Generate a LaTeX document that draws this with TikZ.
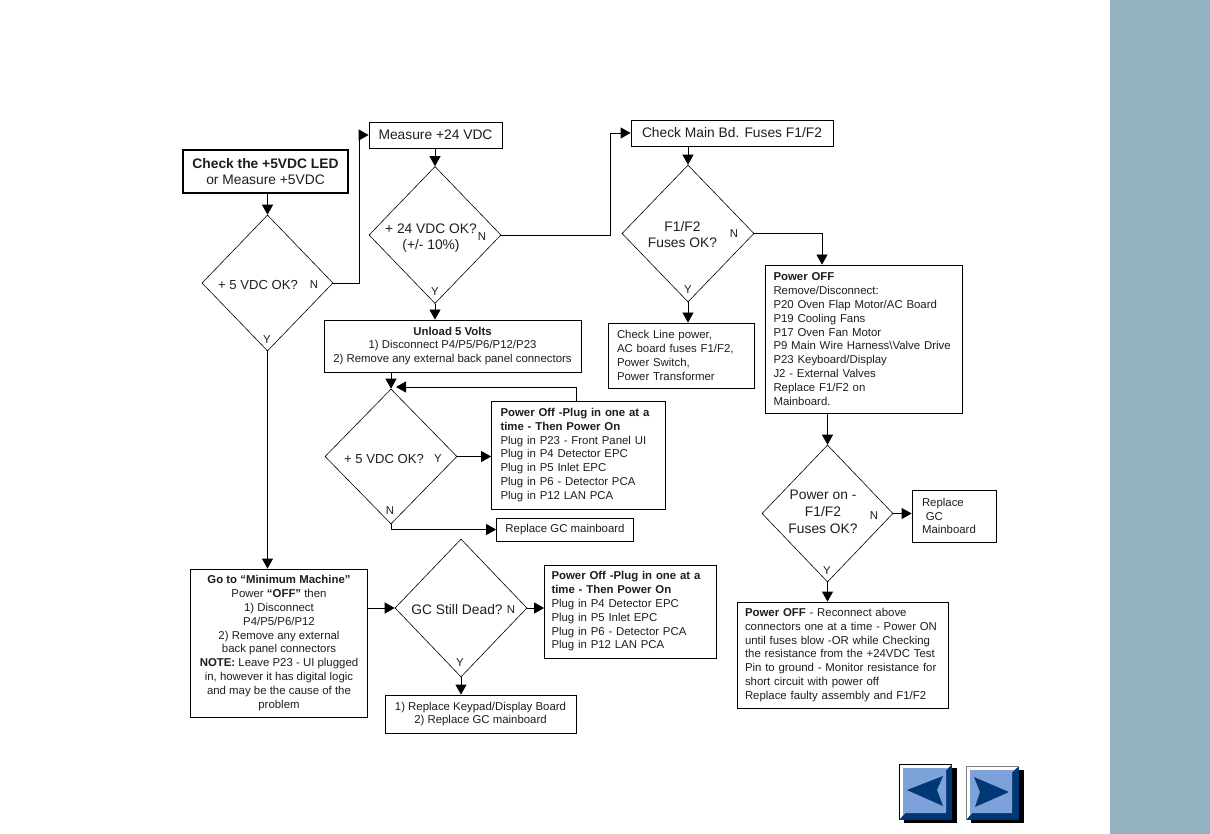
\documentclass[tikz,border=0pt]{standalone}
\usepackage{fontspec}
\setmainfont{Liberation Sans}
\usetikzlibrary{shapes.geometric,arrows.meta}
\definecolor{side}{HTML}{92B1C1}
\definecolor{txt}{HTML}{1E1E1E}
\definecolor{btn}{HTML}{7DA2DA}
\definecolor{btnd}{HTML}{003876}
\tikzset{
  x=1pt,y=-1pt,
  every node/.style={font=\fontsize{11.4}{13.8}\selectfont,text=txt},
  box/.style={draw=black,line width=0.8pt,rectangle,inner sep=0pt,align=center},
  lbox/.style={draw=black,line width=0.8pt,rectangle,inner sep=0pt,align=left},
  dia/.style={draw=black,line width=0.6pt,diamond,inner sep=0pt,aspect=1},
  lab/.style={inner sep=0pt,align=center},
  big/.style={font=\fontsize{13.8}{15.5}\selectfont},
  flow/.style={draw=black,line width=0.8pt,-{Triangle[length=10pt,width=11pt]}},
}
\begin{document}
\begin{tikzpicture}
\useasboundingbox (0,0) rectangle (1210,834);
\fill[white] (0,0) rectangle (1210,834);
\fill[side] (1110,0) rectangle (1210,834);

% boxes
\node[box,line width=2pt,minimum width=165,minimum height=43,big] (start) at (265.5,171.5) {\textbf{Check the +5VDC LED}\\or Measure +5VDC};
\node[box,minimum width=133,minimum height=26,big] (meas) at (435.5,135) {Measure +24 VDC};
\node[box,minimum width=202,minimum height=26,big] (fuse) at (732,133) {Check Main Bd. Fuses F1/F2};
\node[box,minimum width=257,minimum height=52] (unload) at (452.5,346) {\textbf{Unload 5 Volts}\\1) Disconnect P4/P5/P6/P12/P23\\2) Remove any external back panel connectors};
\node[lbox,minimum width=146,minimum height=65,text width=128] (line) at (681,355.5) {Check Line power,\\AC board fuses F1/F2,\\Power Switch,\\Power Transformer};
\node[lbox,minimum width=197,minimum height=148,text width=180] (off) at (863.5,339) {\textbf{Power OFF}\\Remove/Disconnect:\\P20 Oven Flap Motor/AC Board\\P19 Cooling Fans\\P17 Oven Fan Motor\\P9 Main Wire Harness\textbackslash Valve Drive\\P23 Keyboard/Display\\J2 - External Valves\\Replace F1/F2 on\\Mainboard.};
\node[lbox,minimum width=174,minimum height=108,text width=156] (pw1) at (578.5,455) {\textbf{Power Off -Plug in one at a}\\\textbf{time - Then Power On}\\Plug in P23 - Front Panel UI\\Plug in P4 Detector EPC\\Plug in P5 Inlet EPC\\Plug in P6 - Detector PCA\\Plug in P12 LAN PCA};
\node[box,minimum width=137,minimum height=23] (gc) at (565,529.5) {Replace GC mainboard};
\node[box,minimum width=177,minimum height=148] (min) at (279,643) {\textbf{Go to “Minimum Machine”}\\Power \textbf{“OFF”} then\\1) Disconnect\\P4/P5/P6/P12\\2) Remove any external\\back panel connectors\\\textbf{NOTE:} Leave P23 - UI plugged\\in, however it has digital logic\\and may be the cause of the\\problem};
\node[lbox,minimum width=172,minimum height=93,text width=158] (pw2) at (630.5,611.5) {\textbf{Power Off -Plug in one at a}\\\textbf{time - Then Power On}\\Plug in P4 Detector EPC\\Plug in P5 Inlet EPC\\Plug in P6 - Detector PCA\\Plug in P12 LAN PCA};
\node[box,minimum width=191,minimum height=38] (key) at (480.5,714) {1) Replace Keypad/Display Board\\2) Replace GC mainboard};
\node[lbox,minimum width=84,minimum height=52,text width=64] (rep) at (954,516) {Replace\\\ GC\\Mainboard};
\node[lbox,minimum width=211,minimum height=106,text width=195] (last) at (842.5,655) {\textbf{Power OFF} - Reconnect above\\connectors one at a time - Power ON\\until fuses blow -OR while Checking\\the resistance from the +24VDC Test\\Pin to ground - Monitor resistance for\\short circuit with power off\\Replace faulty assembly and F1/F2};

% diamonds
\node[dia,minimum width=131,minimum height=136] (d5) at (267.5,283) {};
\node[dia,minimum width=132,minimum height=137] (d24) at (435,235) {};
\node[dia,minimum width=132,minimum height=137] (df) at (688,233.5) {};
\node[dia,minimum width=132,minimum height=135] (d5b) at (391,456.5) {};
\node[dia,minimum width=132,minimum height=138] (dgc) at (461,608) {};
\node[dia,minimum width=131,minimum height=137] (dp) at (827.5,513.5) {};

% diamond texts
\node[lab,font=\fontsize{13.1}{15}\selectfont] (t5) at (258,285) {+ 5 VDC OK?};
\node[lab] (n5) at (314,285) {N};
\node[lab] (y5) at (267,340) {Y};
\node[lab,font=\fontsize{13.8}{16}\selectfont] (t24) at (431,238) {+ 24 VDC OK?\\(+/- 10\%)};
\node[lab] (n24) at (482,237) {N};
\node[lab] (y24) at (435,292) {Y};
\node[lab,font=\fontsize{13.8}{16}\selectfont] (tf) at (682.5,235) {F1/F2\\Fuses OK?};
\node[lab] (nf) at (734,234) {N};
\node[lab] (yf) at (688,290) {Y};
\node[lab,font=\fontsize{13.1}{15}\selectfont] (t5b) at (384,459) {+ 5 VDC OK?};
\node[lab] (y5b) at (438,459) {Y};
\node[lab] (n5b) at (390,511) {N};
\node[lab,font=\fontsize{13.8}{15}\selectfont] (tgc) at (457,610) {GC Still Dead?};
\node[lab] (ngc) at (511,610) {N};
\node[lab] (ygc) at (460,663) {Y};
\node[lab,font=\fontsize{13.8}{17}\selectfont] (tp) at (823,512) {Power on -\\F1/F2\\Fuses OK?};
\node[lab] (np) at (874,516) {N};
\node[lab] (yp) at (827,571) {Y};

% connectors
\coordinate (c1) at (359,283);
\coordinate (c2) at (610,235);
\coordinate (c3) at (822,233);
\coordinate (ret) at (396,387);
\coordinate (retb) at (576,401);
\draw[flow] (start.south -| d5.north) -- (d5.north);
\draw[flow] (d5.east) -- (c1) |- (meas.west);
\draw[flow] (d5.south) -- (min.north -| d5.south);
\draw[flow] (meas.south -| d24.north) -- (d24.north);
\draw[flow] (d24.east) -- (c2) |- (fuse.west);
\draw[flow] (d24.south) -- (unload.north -| d24.south);
\draw[flow] (fuse.south -| df.north) -- (df.north);
\draw[flow] (df.east) -| (off.north -| c3);
\draw[flow] (df.south) -- (line.north -| df.south);
\draw[flow] (unload.south -| d5b.north) -- (d5b.north);
\draw[flow] (retb) |- (ret);
\draw[flow] (d5b.east) -- (pw1.west |- d5b.east);
\draw[flow] (d5b.south) |- (gc.west);
\draw[flow] (min.east |- dgc.west) -- (dgc.west);
\draw[flow] (dgc.east) -- (pw2.west |- dgc.east);
\draw[flow] (dgc.south) -- (key.north -| dgc.south);
\draw[flow] (off.south -| dp.north) -- (dp.north);
\draw[flow] (dp.east) -- (rep.west |- dp.east);
\draw[flow] (dp.south) -- (last.north -| dp.south);

% navigation buttons
\fill[black] (904,768) rectangle (957,823);
\fill[btnd] (899,764) rectangle (952,820);
\fill[white] (899,764) -- (952,764) -- (946,770) -- (905,770) -- (905,813) -- (899,820) -- cycle;
\fill[btn] (903,768) -- (948,768) -- (946,770) -- (946,813) -- (905,813) -- (903,815) -- cycle;
\draw[black,line width=1pt] (899,820) -- (899,764) -- (952,764);
\fill[btnd] (907,790) -- (943,776) -- (937,790) -- (943,806) -- cycle;
\fill[black] (971,770) rectangle (1024,823);
\fill[btnd] (966,766) rectangle (1019,820);
\fill[white] (966,766) -- (1019,766) -- (1012,772) -- (972,772) -- (972,813) -- (966,820) -- cycle;
\fill[btn] (970,770) -- (1014,770) -- (1012,772) -- (1012,813) -- (972,813) -- (970,815) -- cycle;
\draw[gray,line width=1pt] (966,820) -- (966,766) -- (1019,766);
\fill[btnd] (974,777) -- (1009,792) -- (975,807) -- (980,792) -- cycle;
\end{tikzpicture}
\end{document}
